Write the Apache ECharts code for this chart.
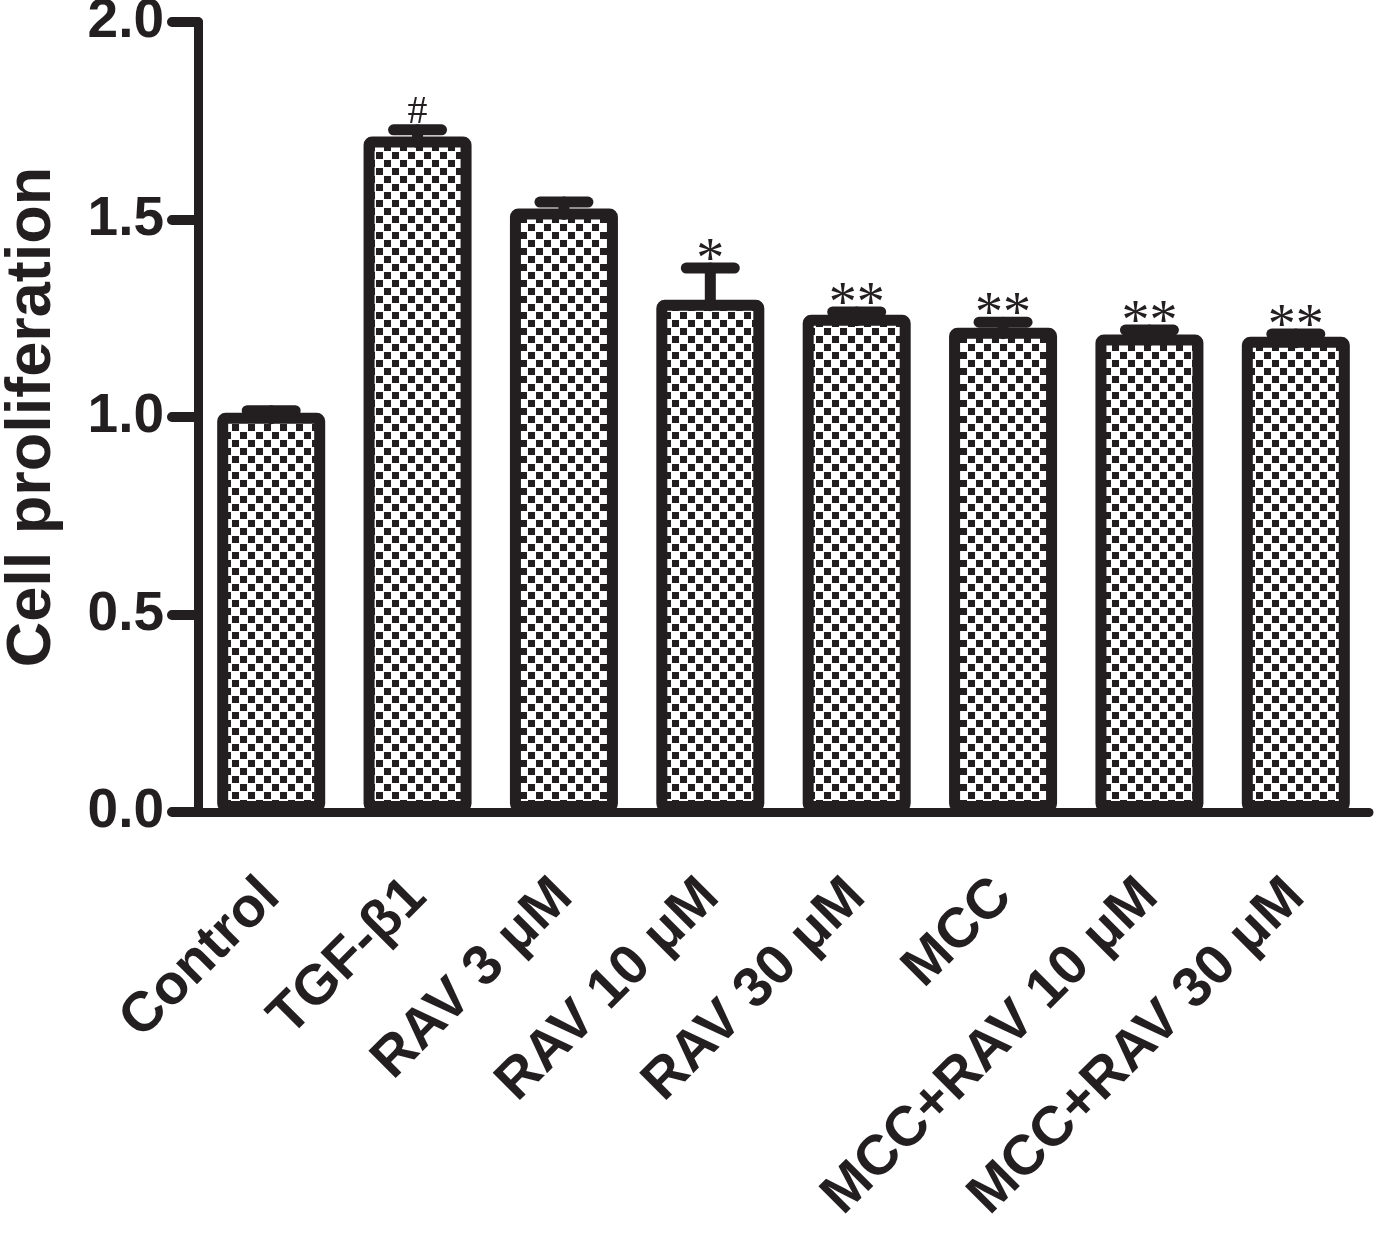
<!DOCTYPE html>
<html>
<head>
<meta charset="utf-8">
<script src="https://cdn.jsdelivr.net/npm/echarts@6/dist/echarts.min.js"></script>
<style>
  html, body { margin: 0; padding: 0; background: #fff; }
  #chart { width: 1378px; height: 1235px; }
</style>
</head>
<body>
<div id="chart"></div>
<script>
// data
const categories = ["Control", "TGF-β1", "RAV 3 μM", "RAV 10 μM", "RAV 30 μM", "MCC", "MCC+RAV 10 μM", "MCC+RAV 30 μM"];
const means = [1.011, 1.710, 1.528, 1.297, 1.259, 1.226, 1.209, 1.203];
const errors = [0.005, 0.017, 0.016, 0.08, 0.007, 0.014, 0.011, 0.007];
const marks = ["", "#", "", "*", "**", "**", "**", "**"];
const yTicks = [0, 0.5, 1.0, 1.5, 2.0];

const INK = "#231f20";

// checkerboard fill like the original hatch
function checker() {
  const c = document.createElement("canvas");
  c.width = 16;
  c.height = 16;
  const ctx = c.getContext("2d");
  ctx.fillStyle = "#fff";
  ctx.fillRect(0, 0, 16, 16);
  ctx.fillStyle = INK;
  ctx.fillRect(0, 0, 7, 7);
  ctx.fillRect(8, 8, 7, 7);
  return c;
}

const chart = echarts.init(document.getElementById("chart"), null, { renderer: "canvas" });

const option = {
  animation: false,
  backgroundColor: "#fff",
  grid: { left: 198, right: 9, top: 22, bottom: 423, containLabel: false, outerBoundsMode: "none" },
  xAxis: {
    type: "category",
    data: categories,
    axisLine: { lineStyle: { color: INK, width: 9, cap: "round" } },
    axisTick: { alignWithLabel: true, length: 27, lineStyle: { color: INK, width: 10, cap: "round" } },
    axisLabel: {
      rotate: 45,
      margin: 76,
      interval: 0,
      color: INK,
      fontFamily: "Liberation Sans",
      fontWeight: "bold",
      fontSize: 56
    }
  },
  yAxis: {
    type: "value",
    min: yTicks[0],
    max: yTicks[yTicks.length - 1],
    interval: 0.5,
    name: "Cell proliferation",
    nameLocation: "middle",
    nameGap: 134,
    nameTextStyle: { color: INK, fontFamily: "Liberation Sans", fontWeight: "bold", fontSize: 63 },
    axisLine: { show: true, lineStyle: { color: INK, width: 9, cap: "round" } },
    axisTick: { show: true, length: 26, lineStyle: { color: INK, width: 10, cap: "round" } },
    splitLine: { show: false },
    axisLabel: {
      margin: 34,
      color: INK,
      fontFamily: "Liberation Sans",
      fontWeight: "bold",
      fontSize: 55,
      formatter: (v) => v.toFixed(1)
    }
  },
  series: [
    {
      type: "bar",
      data: means,
      barWidth: 108, // border is drawn inside the bar
      z: 2,
      itemStyle: {
        color: { image: checker(), repeat: "repeat" },
        borderColor: INK,
        borderWidth: 11,
        borderRadius: 3
      }
    },
    {
      // upper error bars + significance marks
      type: "custom",
      z: 3,
      data: means.map((m, i) => [i, m, m + errors[i]]),
      renderItem: (params, api) => {
        const i = api.value(0);
        const base = api.coord([i, api.value(1)]);
        const top = api.coord([i, api.value(2)]);
        const half = 24;
        const style = { stroke: INK, lineWidth: 11, lineCap: "round" };
        const children = [
          { type: "line", shape: { x1: top[0], y1: base[1] + 6, x2: top[0], y2: top[1] }, style: style },
          { type: "line", shape: { x1: top[0] - half, y1: top[1], x2: top[0] + half, y2: top[1] }, style: style }
        ];
        const mark = marks[params.dataIndex];
        if (mark) {
          const isHash = mark === "#";
          children.push({
            type: "text",
            style: {
              text: mark,
              x: top[0],
              y: isHash ? top[1] - 17.5 : top[1] - 5.5,
              align: "center",
              verticalAlign: "middle",
              fill: INK,
              font: (isHash ? "40px" : "56px") + " 'Liberation Serif'"
            }
          });
        }
        return { type: "group", children: children };
      }
    }
  ]
};

chart.setOption(option);
window.addEventListener("resize", () => chart.resize());
</script>
</body>
</html>
